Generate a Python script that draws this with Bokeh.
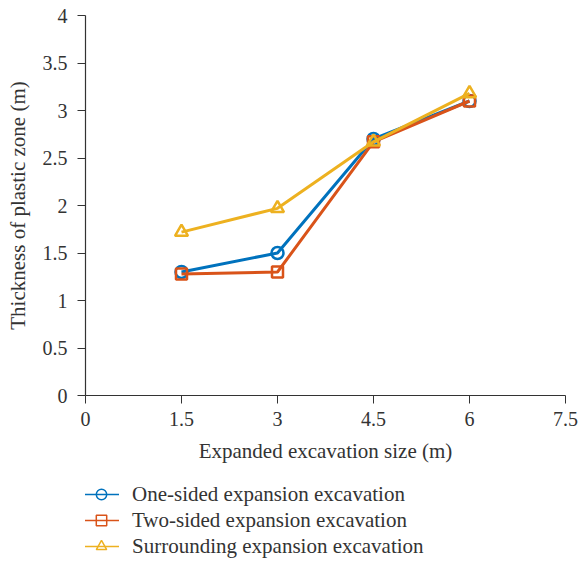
from bokeh.plotting import figure
from bokeh.models import FixedTicker, Legend, LegendItem, Range1d
from bokeh.layouts import column
from bokeh.embed import file_html
from bokeh.resources import INLINE

sizes = [1.5, 3.0, 4.5, 6.0]
one_sided = [1.30, 1.50, 2.70, 3.10]
two_sided = [1.28, 1.30, 2.67, 3.10]
surrounding = [1.72, 1.97, 2.67, 3.18]

x_ticks = [0, 1.5, 3, 4.5, 6, 7.5]
x_tick_labels = ["0", "1.5", "3", "4.5", "6", "7.5"]
y_ticks = [0, 0.5, 1, 1.5, 2, 2.5, 3, 3.5, 4]
y_tick_labels = ["0", "0.5", "1", "1.5", "2", "2.5", "3", "3.5", "4"]

names = ["One-sided expansion excavation", "Two-sided expansion excavation",
         "Surrounding expansion excavation"]
colors = ["#0072BD", "#D95319", "#EDB120"]
markers = ["circle", "square", "triangle"]

FONT = "Liberation Serif"
TXT = "#333333"

p = figure(frame_width=480, frame_height=380, min_border_left=85, min_border_right=16,
           min_border_top=15, min_border_bottom=20,
           x_range=Range1d(0, 7.5), y_range=Range1d(0, 4),
           output_backend="svg", toolbar_location=None)
p.outline_line_color = None
p.grid.grid_line_color = None

for ax in (p.xaxis[0], p.yaxis[0]):
    ax.axis_line_color = TXT
    ax.axis_line_width = 1.2
    ax.major_tick_line_color = TXT
    ax.major_tick_in = 0
    ax.major_tick_out = 8
    ax.minor_tick_line_color = None
    ax.major_label_text_font = FONT
    ax.major_label_text_font_size = "20px"
    ax.major_label_text_color = TXT
    ax.axis_label_text_font = FONT
    ax.axis_label_text_font_size = "21px"
    ax.axis_label_text_font_style = "normal"
    ax.axis_label_text_color = TXT

p.xaxis.ticker = FixedTicker(ticks=x_ticks)
p.xaxis.major_label_overrides = dict(zip(x_ticks, x_tick_labels))
p.yaxis.ticker = FixedTicker(ticks=y_ticks)
p.yaxis.major_label_overrides = dict(zip(y_ticks, y_tick_labels))
p.xaxis.axis_label = "Expanded excavation size (m)"
p.yaxis.axis_label = "Thickness of plastic zone (m)"
p.xaxis.major_label_standoff = 8
p.yaxis.major_label_standoff = 10
p.xaxis.axis_label_standoff = 10
p.yaxis.axis_label_standoff = 10

series = [one_sided, two_sided, surrounding]
msizes = [12, 11, 13]
for vals, c, m, ms in zip(series, colors, markers, msizes):
    p.line(sizes, vals, line_color=c, line_width=3)
    p.scatter(sizes, vals, marker=m, size=ms, line_color=c, line_width=2.5,
              fill_color="white", fill_alpha=0.0)

# legend panel (its glyph renderers sit outside the visible range)
lg = figure(width=581, height=96, min_border=0, x_range=Range1d(0, 1), y_range=Range1d(0, 1),
            x_axis_location=None, y_axis_location=None,
            output_backend="svg", toolbar_location=None)
lg.grid.grid_line_color = None
lg.outline_line_color = None
items = []
for name, c, m in zip(names, colors, markers):
    l = lg.line([-5, -4], [-5, -4], line_color=c, line_width=1.5)
    s = lg.scatter([-5], [-5], marker=m, size=9, line_color=c, line_width=1.5,
                   fill_color="white", fill_alpha=0.0)
    items.append(LegendItem(label=name, renderers=[l, s]))

legend = Legend(items=items, location=(-2, 2), orientation="vertical",
                label_text_font=FONT, label_text_font_size="21px",
                label_text_color=TXT, glyph_width=36, glyph_height=26,
                label_height=26, label_standoff=13, spacing=0, padding=0,
                margin=0, border_line_color=None, background_fill_alpha=0)
lg.add_layout(legend, "center")

layout = column(p, lg, spacing=0)
open("out.html", "w").write(file_html(layout, INLINE))
